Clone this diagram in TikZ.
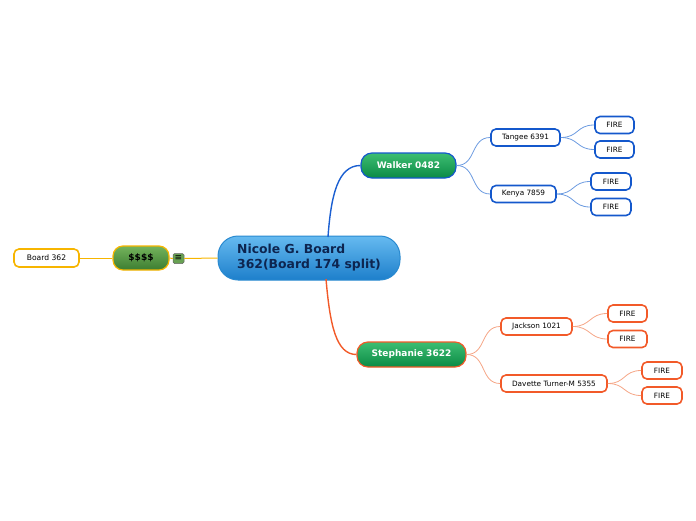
\documentclass[tikz,border=0pt]{standalone}
\usepackage{fontspec}
\setmainfont{DejaVu Sans}
\definecolor{bluemain}{HTML}{1B5FD1}
\definecolor{bluethin}{HTML}{6C9BE0}
\definecolor{blueborder}{HTML}{1458CC}
\definecolor{orangemain}{HTML}{F25A29}
\definecolor{orangethin}{HTML}{F5A585}
\definecolor{yellowmain}{HTML}{F7B500}
\definecolor{greentop}{HTML}{3DBE72}
\definecolor{greenbot}{HTML}{0B8A45}
\definecolor{moneytop}{HTML}{74B35C}
\definecolor{moneybot}{HTML}{3C7D31}
\definecolor{centertop}{HTML}{66BAF0}
\definecolor{centerbot}{HTML}{1D7FCB}
\definecolor{centerborder}{HTML}{2A8AD0}
\definecolor{navytext}{HTML}{0D2550}
\begin{document}
\begin{tikzpicture}[x=1pt,y=-1pt,
  leaf/.style={draw, line width=1.6pt, rounded corners=5pt, fill=white, font=\fontsize{7.3}{8}\selectfont, minimum height=17pt, inner sep=0pt},
  bleaf/.style={leaf, draw=blueborder},
  oleaf/.style={leaf, draw=orangemain},
  branch/.style={draw, line width=1.2pt, rounded corners=11pt, top color=greentop, bottom color=greenbot, text=white, font=\bfseries\fontsize{9}{10}\selectfont, minimum height=25pt, inner sep=0pt},
  thinb/.style={bluethin, line width=0.8pt},
  thino/.style={orangethin, line width=0.8pt}]
\useasboundingbox (0,0) rectangle (696,520);

% central
\node[draw=centerborder, line width=1pt, rounded corners=20pt, top color=centertop, bottom color=centerbot,
  minimum width=182pt, minimum height=44pt, inner sep=0pt, text=navytext, align=left,
  font=\bfseries\fontsize{12.4}{15}\selectfont] (center) at (309,258) {Nicole G. Board\\362(Board 174 split)};

% left side
\node[draw=yellowmain, line width=1.2pt, rounded corners=10pt, top color=moneytop, bottom color=moneybot,
  minimum width=56pt, minimum height=24pt, inner sep=0pt, font=\bfseries\fontsize{9}{10}\selectfont] (money) at (141,258) {\$\$\$\$};
\node[draw=black!60, line width=0.5pt, rounded corners=1.5pt, fill=moneytop!90!black, minimum width=11pt, minimum height=10pt, inner sep=0pt,
  font=\fontsize{9}{9}\selectfont] (icon) at (178.5,258.5) {≡};
\node[leaf, draw=yellowmain, minimum width=65pt, minimum height=18pt, font=\fontsize{7.6}{8}\selectfont] (board) at (46.5,258) {Board 362};

\draw[yellowmain, line width=1pt] (center.west) -- (icon.east);
\draw[yellowmain, line width=1pt] (icon.west) -- (money.east);
\draw[yellowmain, line width=0.8pt] (money.west) -- (board.east);

% branches
\node[branch, draw=blueborder, minimum width=95pt] (walker) at (408.5,165.5) {Walker 0482};
\node[branch, draw=orangemain, minimum width=109pt] (steph) at (411.5,354.5) {Stephanie 3622};

\coordinate (ctop) at (328,237);
\coordinate (cbot) at (326,279);
\draw[bluemain, line width=1.4pt] (ctop) .. controls (331,195) and (338,165.5) .. (walker.west);
\draw[orangemain, line width=1.4pt] (cbot) .. controls (330,325) and (336,354.5) .. (steph.west);

% blue leaves
\node[bleaf, minimum width=69pt] (tangee) at (525.5,137.5) {Tangee 6391};
\node[bleaf, minimum width=39pt] (f1) at (614.5,125) {FIRE};
\node[bleaf, minimum width=39pt] (f2) at (614.5,149.5) {FIRE};
\node[bleaf, minimum width=65pt] (kenya) at (523.5,194) {Kenya 7859};
\node[bleaf, minimum width=40pt] (f3) at (611,181.5) {FIRE};
\node[bleaf, minimum width=40pt] (f4) at (611,207) {FIRE};

\draw[thinb] (walker.east) .. controls +(20,0) and +(-20,0) .. (tangee.west);
\draw[thinb] (walker.east) .. controls +(20,0) and +(-20,0) .. (kenya.west);
\draw[thinb] (tangee.east) .. controls +(18,0) and +(-18,0) .. (f1.west);
\draw[thinb] (tangee.east) .. controls +(18,0) and +(-18,0) .. (f2.west);
\draw[thinb] (kenya.east) .. controls +(18,0) and +(-18,0) .. (f3.west);
\draw[thinb] (kenya.east) .. controls +(18,0) and +(-18,0) .. (f4.west);

% orange leaves
\node[oleaf, minimum width=71pt] (jackson) at (536.5,326.5) {Jackson 1021};
\node[oleaf, minimum width=39pt] (f5) at (627.5,313.5) {FIRE};
\node[oleaf, minimum width=39pt] (f6) at (627.5,339) {FIRE};
\node[oleaf, minimum width=106pt] (davette) at (554,383.5) {Davette Turner-M 5355};
\node[oleaf, minimum width=40pt] (f7) at (662,370.5) {FIRE};
\node[oleaf, minimum width=40pt] (f8) at (662,395.5) {FIRE};

\draw[thino] (steph.east) .. controls +(20,0) and +(-20,0) .. (jackson.west);
\draw[thino] (steph.east) .. controls +(20,0) and +(-20,0) .. (davette.west);
\draw[thino] (jackson.east) .. controls +(18,0) and +(-18,0) .. (f5.west);
\draw[thino] (jackson.east) .. controls +(18,0) and +(-18,0) .. (f6.west);
\draw[thino] (davette.east) .. controls +(18,0) and +(-18,0) .. (f7.west);
\draw[thino] (davette.east) .. controls +(18,0) and +(-18,0) .. (f8.west);
\end{tikzpicture}
\end{document}
